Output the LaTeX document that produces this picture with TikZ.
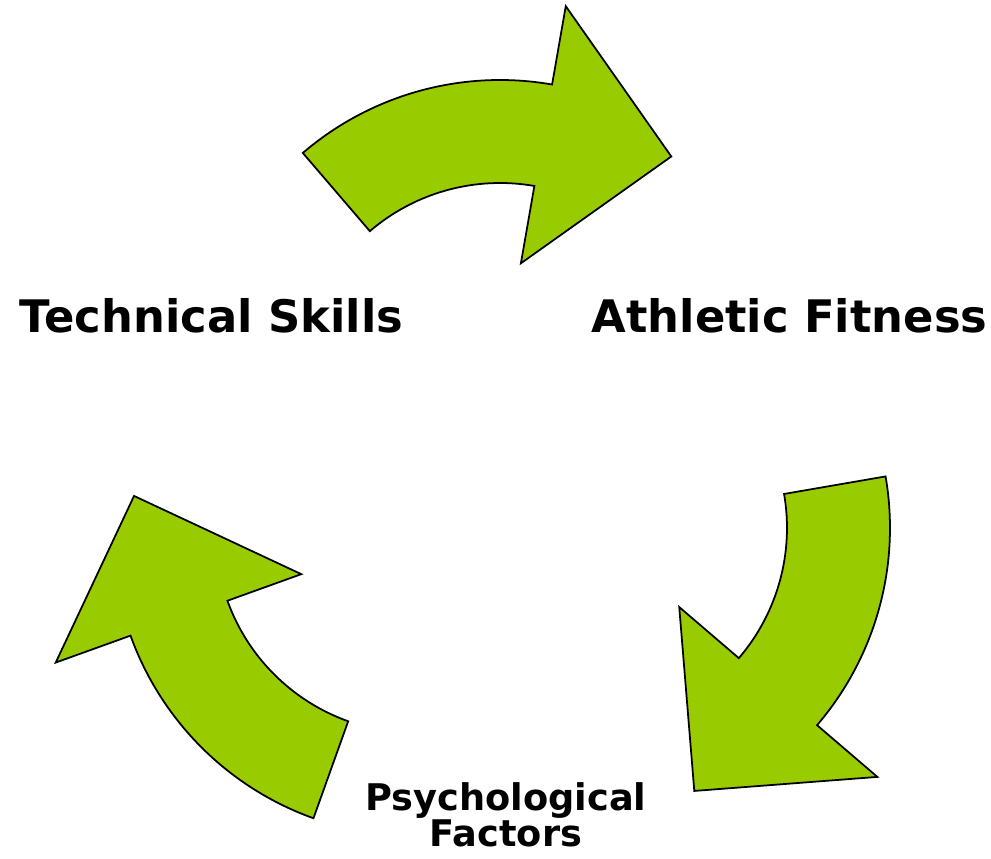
\documentclass[tikz,border=0pt]{standalone}
\usepackage{fontspec}
\setmainfont{DejaVu Sans}
\usepackage{tikz}
\usetikzlibrary{calc}
\definecolor{leaf}{RGB}{153,204,0}
\tikzstyle{ringbody} = [fill=leaf, draw=black, line width=1pt, line join=miter]
\tikzstyle{bigtext} = [inner sep=0pt, anchor=base, font=\bfseries\fontsize{25.5}{30}\selectfont]
\tikzstyle{smalltext} = [inner sep=0pt, anchor=base, align=center, font=\bfseries\fontsize{20.9}{20.8}\selectfont]
% curved arrow on a ring: centre, tail angle, head angle, tip angle
\newcommand{\ringarrow}[4]{%
	\filldraw [ringbody, shift={(#1)}] (#2:303) arc[start angle=#2, end angle=#3, radius=303]
		-- (#3:382.5) -- (#4:284) -- (#3:121.5) -- (#3:200)
		arc[start angle=#3, end angle=#2, radius=200] -- cycle;}

\begin{document}
\begin{tikzpicture}[x=0.02cm, y=0.02cm]
	\useasboundingbox (0,0) rectangle (991,859);
	
	% Arrows
	\coordinate (ctop) at (500,476);
	\coordinate (cright) at (587,331);
	\coordinate (cleft) at (415.6,326);
	\ringarrow{ctop}{130.6}{80.1}{52.9}
	\ringarrow{cright}{9.8}{-40.6}{-67.8}
	\ringarrow{cleft}{250.3}{199.8}{172.5}
	
	% Nodes
	\node (technical) [bigtext] at (211.5,526) {Technical Skills};
	\node (athletic) [bigtext] at (789.5,526) {Athletic Fitness};
	\node (psych) [smalltext] at (506,12.3) {Psychological\\Factors};
	
\end{tikzpicture}
\end{document}
